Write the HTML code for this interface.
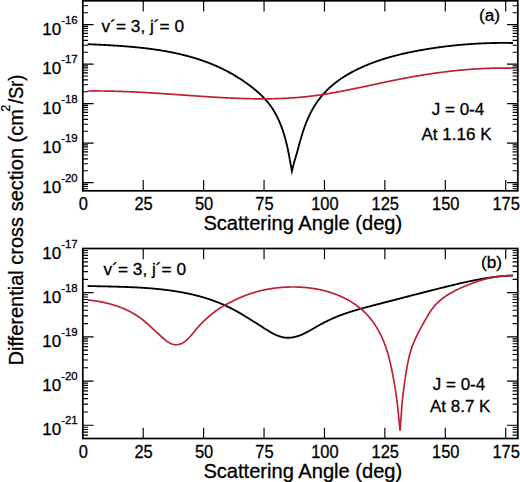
<!DOCTYPE html>
<html><head><meta charset="utf-8"><style>
html,body{margin:0;padding:0;background:#fff;}
body{width:520px;height:482px;position:relative;overflow:hidden;font-family:"Liberation Sans",sans-serif;}
</style></head><body>
<svg width="520" height="482" viewBox="0 0 520 482" style="position:absolute;left:0;top:0">
<g font-family='"Liberation Sans", sans-serif' fill="#000" stroke="#000" stroke-width="0.3">
<path d="M87.62,44.17 L88.12,44.20 L88.62,44.22 L89.12,44.24 L89.62,44.26 L90.12,44.29 L90.62,44.31 L91.12,44.33 L91.62,44.35 L92.12,44.38 L92.62,44.40 L93.12,44.42 L93.62,44.45 L94.12,44.47 L94.62,44.49 L95.12,44.52 L95.62,44.54 L96.12,44.56 L96.62,44.59 L97.12,44.61 L97.62,44.64 L98.12,44.66 L98.62,44.68 L99.12,44.71 L99.62,44.73 L100.12,44.76 L100.62,44.78 L101.12,44.81 L101.62,44.83 L102.13,44.86 L102.63,44.88 L103.13,44.91 L103.63,44.94 L104.13,44.96 L104.63,44.99 L105.13,45.02 L105.63,45.04 L106.13,45.07 L106.63,45.10 L107.13,45.12 L107.63,45.15 L108.13,45.18 L108.63,45.21 L109.13,45.24 L109.63,45.26 L110.13,45.29 L110.63,45.32 L111.13,45.35 L111.63,45.38 L112.13,45.41 L112.63,45.44 L113.13,45.47 L113.63,45.50 L114.13,45.53 L114.63,45.56 L115.13,45.60 L115.63,45.63 L116.12,45.66 L116.62,45.69 L117.12,45.73 L117.62,45.76 L118.12,45.79 L118.62,45.83 L119.12,45.86 L119.62,45.89 L120.12,45.93 L120.62,45.96 L121.12,46.00 L121.62,46.04 L122.12,46.07 L122.62,46.11 L123.12,46.15 L123.62,46.18 L124.12,46.22 L124.62,46.26 L125.12,46.30 L125.62,46.34 L126.12,46.38 L126.61,46.42 L127.11,46.46 L127.61,46.50 L128.11,46.54 L128.61,46.58 L129.11,46.62 L129.61,46.66 L130.11,46.71 L130.61,46.75 L131.11,46.79 L131.61,46.84 L132.10,46.88 L132.60,46.93 L133.10,46.97 L133.60,47.02 L134.10,47.06 L134.60,47.11 L135.10,47.16 L135.59,47.21 L136.09,47.25 L136.59,47.30 L137.09,47.35 L137.59,47.40 L138.09,47.45 L138.58,47.50 L139.08,47.56 L139.58,47.61 L140.08,47.66 L140.58,47.71 L141.07,47.77 L141.57,47.82 L142.07,47.88 L142.57,47.93 L143.07,47.99 L143.56,48.04 L144.06,48.10 L144.56,48.16 L145.06,48.22 L145.55,48.28 L146.05,48.34 L146.55,48.40 L147.05,48.46 L147.54,48.52 L148.04,48.58 L148.54,48.64 L149.03,48.70 L149.53,48.77 L150.03,48.83 L150.52,48.90 L151.02,48.96 L151.52,49.03 L152.01,49.10 L152.51,49.16 L153.00,49.23 L153.50,49.30 L154.00,49.37 L154.49,49.44 L154.99,49.51 L155.48,49.59 L155.98,49.66 L156.47,49.73 L156.97,49.81 L157.46,49.88 L157.96,49.96 L158.46,50.03 L158.95,50.11 L159.44,50.19 L159.94,50.26 L160.43,50.34 L160.93,50.42 L161.42,50.50 L161.92,50.59 L162.41,50.67 L162.90,50.75 L163.40,50.83 L163.89,50.92 L164.39,51.00 L164.88,51.09 L165.37,51.18 L165.87,51.26 L166.36,51.35 L166.85,51.44 L167.34,51.53 L167.84,51.62 L168.33,51.71 L168.82,51.81 L169.31,51.90 L169.80,51.99 L170.30,52.09 L170.79,52.19 L171.28,52.28 L171.77,52.38 L172.26,52.48 L172.75,52.58 L173.24,52.68 L173.73,52.78 L174.22,52.88 L174.71,52.99 L175.20,53.09 L175.69,53.19 L176.18,53.30 L176.67,53.41 L177.16,53.51 L177.65,53.62 L178.14,53.73 L178.63,53.84 L179.12,53.95 L179.60,54.07 L180.09,54.18 L180.58,54.29 L181.07,54.41 L181.55,54.53 L182.04,54.64 L182.53,54.76 L183.01,54.88 L183.50,55.00 L183.99,55.12 L184.47,55.24 L184.96,55.37 L185.44,55.49 L185.93,55.62 L186.41,55.74 L186.90,55.87 L187.38,56.00 L187.86,56.13 L188.35,56.26 L188.83,56.39 L189.31,56.52 L189.80,56.66 L190.28,56.79 L190.76,56.93 L191.24,57.06 L191.72,57.20 L192.21,57.34 L192.69,57.48 L193.17,57.62 L193.65,57.76 L194.13,57.91 L194.61,58.05 L195.09,58.20 L195.56,58.34 L196.04,58.49 L196.52,58.64 L197.00,58.79 L197.48,58.94 L197.95,59.09 L198.43,59.25 L198.91,59.40 L199.38,59.56 L199.86,59.71 L200.33,59.87 L200.81,60.03 L201.28,60.19 L201.76,60.35 L202.23,60.52 L202.70,60.68 L203.18,60.85 L203.65,61.01 L204.12,61.18 L204.59,61.35 L205.06,61.52 L205.53,61.69 L206.00,61.86 L206.47,62.04 L206.94,62.21 L207.41,62.39 L207.88,62.56 L208.35,62.74 L208.81,62.92 L209.28,63.10 L209.75,63.29 L210.21,63.47 L210.68,63.66 L211.14,63.84 L211.61,64.03 L212.07,64.22 L212.54,64.41 L213.00,64.60 L213.46,64.79 L213.92,64.99 L214.38,65.18 L214.85,65.38 L215.31,65.57 L215.76,65.77 L216.22,65.97 L216.68,66.18 L217.14,66.38 L217.60,66.58 L218.05,66.79 L218.51,66.99 L218.97,67.20 L219.42,67.41 L219.88,67.62 L220.33,67.84 L220.78,68.05 L221.23,68.26 L221.69,68.48 L222.14,68.70 L222.59,68.92 L223.04,69.14 L223.49,69.36 L223.94,69.58 L224.38,69.80 L224.83,70.03 L225.28,70.26 L225.72,70.49 L226.17,70.71 L226.61,70.95 L227.06,71.18 L227.50,71.41 L227.94,71.65 L228.38,71.88 L228.82,72.12 L229.26,72.36 L229.70,72.60 L230.14,72.84 L230.58,73.08 L231.02,73.33 L231.45,73.57 L231.89,73.82 L232.32,74.07 L232.76,74.32 L233.19,74.57 L233.62,74.82 L234.06,75.08 L234.49,75.33 L234.92,75.59 L235.35,75.84 L235.78,76.10 L236.20,76.36 L236.63,76.62 L237.06,76.89 L237.48,77.15 L237.91,77.42 L238.33,77.68 L238.76,77.95 L239.18,78.22 L239.60,78.49 L240.02,78.76 L240.44,79.03 L240.86,79.31 L241.28,79.58 L241.70,79.86 L242.11,80.13 L242.53,80.41 L242.94,80.69 L243.36,80.97 L243.77,81.26 L244.19,81.54 L244.60,81.83 L245.01,82.11 L245.42,82.40 L245.83,82.69 L246.24,82.98 L246.64,83.27 L247.05,83.56 L247.46,83.85 L247.86,84.15 L248.27,84.45 L248.67,84.74 L249.07,85.04 L249.47,85.34 L249.87,85.64 L250.27,85.94 L250.67,86.25 L251.07,86.55 L251.47,86.86 L251.86,87.16 L252.26,87.47 L252.65,87.78 L253.04,88.09 L253.43,88.40 L253.82,88.72 L254.21,89.03 L254.60,89.35 L254.99,89.67 L255.37,89.99 L255.76,90.31 L256.14,90.63 L256.52,90.95 L256.90,91.28 L257.28,91.61 L257.66,91.94 L258.04,92.27 L258.41,92.60 L258.79,92.93 L259.16,93.27 L259.53,93.61 L259.89,93.95 L260.26,94.29 L260.63,94.63 L260.99,94.97 L261.35,95.32 L261.71,95.67 L262.07,96.02 L262.42,96.37 L262.78,96.73 L263.13,97.08 L263.48,97.44 L263.83,97.80 L264.17,98.17 L264.52,98.53 L264.86,98.90 L265.20,99.27 L265.53,99.64 L265.87,100.01 L266.20,100.38 L266.53,100.76 L266.85,101.14 L267.18,101.52 L267.50,101.91 L267.82,102.29 L268.13,102.68 L268.45,103.07 L268.76,103.46 L269.07,103.86 L269.37,104.26 L269.67,104.66 L269.97,105.06 L270.27,105.46 L270.56,105.87 L270.86,106.27 L271.14,106.68 L271.43,107.10 L271.71,107.51 L271.99,107.92 L272.27,108.34 L272.54,108.76 L272.81,109.18 L273.08,109.60 L273.35,110.03 L273.61,110.45 L273.87,110.88 L274.13,111.31 L274.39,111.74 L274.64,112.17 L274.89,112.61 L275.14,113.04 L275.38,113.48 L275.62,113.92 L275.86,114.36 L276.10,114.80 L276.33,115.24 L276.57,115.69 L276.79,116.13 L277.02,116.58 L277.25,117.03 L277.47,117.48 L277.69,117.93 L277.91,118.38 L278.12,118.83 L278.33,119.28 L278.54,119.74 L278.75,120.19 L278.96,120.65 L279.16,121.11 L279.36,121.57 L279.56,122.03 L279.75,122.49 L279.95,122.95 L280.14,123.41 L280.33,123.87 L280.52,124.34 L280.70,124.80 L280.89,125.27 L281.07,125.74 L281.25,126.20 L281.42,126.67 L281.60,127.14 L281.77,127.61 L281.94,128.08 L282.11,128.55 L282.28,129.03 L282.45,129.50 L282.61,129.97 L282.77,130.45 L282.93,130.92 L283.09,131.40 L283.25,131.87 L283.40,132.35 L283.55,132.83 L283.70,133.30 L283.85,133.78 L284.00,134.26 L284.15,134.74 L284.29,135.22 L284.43,135.70 L284.57,136.18 L284.71,136.66 L284.85,137.14 L284.99,137.62 L285.12,138.11 L285.26,138.59 L285.39,139.07 L285.52,139.56 L285.65,140.04 L285.77,140.52 L285.90,141.01 L286.02,141.49 L286.15,141.98 L286.27,142.46 L286.39,142.95 L286.51,143.44 L286.63,143.92 L286.74,144.41 L286.86,144.90 L286.97,145.39 L287.08,145.87 L287.20,146.36 L287.31,146.85 L287.41,147.34 L287.52,147.83 L287.63,148.32 L287.74,148.81 L287.84,149.30 L287.94,149.79 L288.05,150.28 L288.15,150.77 L288.25,151.26 L288.35,151.75 L288.45,152.24 L288.54,152.73 L288.64,153.22 L288.74,153.71 L288.83,154.21 L288.93,154.70 L289.02,155.19 L289.11,155.68 L289.20,156.17 L289.29,156.67 L289.38,157.16 L289.47,157.65 L289.56,158.15 L289.65,158.64 L289.74,159.13 L289.82,159.63 L289.91,160.12 L289.99,160.61 L290.08,161.11 L291.90,171.20 L294.23,161.80 L294.38,161.32 L294.54,160.85 L294.69,160.37 L294.84,159.89 L294.99,159.41 L295.14,158.94 L295.28,158.46 L295.43,157.98 L295.57,157.50 L295.72,157.02 L295.86,156.54 L296.00,156.06 L296.14,155.58 L296.28,155.10 L296.42,154.62 L296.56,154.13 L296.69,153.65 L296.83,153.17 L296.97,152.69 L297.10,152.21 L297.24,151.72 L297.37,151.24 L297.50,150.76 L297.64,150.28 L297.77,149.79 L297.90,149.31 L298.04,148.83 L298.17,148.35 L298.30,147.86 L298.43,147.38 L298.56,146.90 L298.70,146.41 L298.83,145.93 L298.96,145.45 L299.09,144.96 L299.22,144.48 L299.36,144.00 L299.49,143.52 L299.62,143.03 L299.75,142.55 L299.89,142.07 L300.02,141.58 L300.16,141.10 L300.29,140.62 L300.43,140.14 L300.56,139.66 L300.70,139.17 L300.84,138.69 L300.98,138.21 L301.12,137.73 L301.26,137.25 L301.40,136.77 L301.54,136.29 L301.68,135.81 L301.82,135.33 L301.97,134.85 L302.12,134.37 L302.26,133.89 L302.41,133.41 L302.56,132.94 L302.71,132.46 L302.86,131.98 L303.02,131.51 L303.17,131.03 L303.33,130.55 L303.49,130.08 L303.65,129.60 L303.81,129.13 L303.97,128.66 L304.13,128.18 L304.30,127.71 L304.47,127.24 L304.64,126.77 L304.81,126.30 L304.98,125.83 L305.15,125.36 L305.33,124.89 L305.51,124.42 L305.69,123.95 L305.87,123.49 L306.05,123.02 L306.23,122.55 L306.42,122.09 L306.61,121.62 L306.80,121.16 L306.99,120.70 L307.18,120.24 L307.38,119.78 L307.58,119.32 L307.78,118.86 L307.98,118.40 L308.18,117.94 L308.39,117.48 L308.59,117.03 L308.80,116.57 L309.02,116.12 L309.23,115.67 L309.44,115.21 L309.66,114.76 L309.88,114.31 L310.10,113.86 L310.33,113.42 L310.55,112.97 L310.78,112.52 L311.01,112.08 L311.25,111.64 L311.48,111.19 L311.72,110.75 L311.96,110.31 L312.20,109.87 L312.44,109.44 L312.69,109.00 L312.94,108.57 L313.19,108.13 L313.44,107.70 L313.70,107.27 L313.95,106.84 L314.21,106.41 L314.48,105.99 L314.74,105.56 L315.01,105.14 L315.28,104.72 L315.55,104.30 L315.82,103.88 L316.10,103.46 L316.38,103.04 L316.66,102.63 L316.95,102.22 L317.23,101.81 L317.52,101.40 L317.81,100.99 L318.11,100.59 L318.40,100.18 L318.70,99.78 L319.00,99.38 L319.31,98.98 L319.61,98.58 L319.92,98.19 L320.23,97.80 L320.54,97.40 L320.86,97.02 L321.17,96.63 L321.49,96.24 L321.81,95.86 L322.14,95.47 L322.46,95.09 L322.79,94.72 L323.12,94.34 L323.45,93.96 L323.79,93.59 L324.12,93.22 L324.46,92.85 L324.80,92.48 L325.14,92.12 L325.49,91.75 L325.84,91.39 L326.18,91.03 L326.53,90.68 L326.89,90.32 L327.24,89.97 L327.60,89.61 L327.96,89.26 L328.32,88.92 L328.68,88.57 L329.04,88.23 L329.41,87.88 L329.77,87.54 L330.14,87.21 L330.52,86.87 L330.89,86.54 L331.26,86.20 L331.64,85.87 L332.02,85.55 L332.40,85.22 L332.78,84.90 L333.16,84.57 L333.55,84.26 L333.94,83.94 L334.33,83.62 L334.72,83.31 L335.11,83.00 L335.50,82.69 L335.90,82.38 L336.30,82.08 L336.69,81.77 L337.10,81.47 L337.50,81.17 L337.90,80.88 L338.31,80.58 L338.71,80.29 L339.12,80.00 L339.53,79.71 L339.94,79.42 L340.35,79.14 L340.76,78.86 L341.18,78.58 L341.59,78.30 L342.01,78.02 L342.43,77.74 L342.85,77.47 L343.27,77.20 L343.69,76.93 L344.11,76.66 L344.54,76.40 L344.96,76.13 L345.39,75.87 L345.82,75.61 L346.25,75.35 L346.68,75.09 L347.11,74.84 L347.54,74.58 L347.97,74.33 L348.40,74.08 L348.84,73.83 L349.27,73.58 L349.71,73.34 L350.15,73.09 L350.59,72.85 L351.03,72.61 L351.47,72.37 L351.91,72.13 L352.35,71.90 L352.79,71.66 L353.23,71.43 L353.68,71.20 L354.12,70.97 L354.57,70.74 L355.01,70.51 L355.46,70.28 L355.91,70.06 L356.36,69.84 L356.80,69.61 L357.25,69.39 L357.70,69.17 L358.15,68.96 L358.61,68.74 L359.06,68.52 L359.51,68.31 L359.96,68.10 L360.42,67.89 L360.87,67.68 L361.33,67.47 L361.78,67.26 L362.24,67.06 L362.70,66.85 L363.16,66.65 L363.61,66.45 L364.07,66.25 L364.53,66.05 L364.99,65.85 L365.45,65.65 L365.92,65.46 L366.38,65.26 L366.84,65.07 L367.30,64.88 L367.77,64.69 L368.23,64.50 L368.69,64.32 L369.16,64.13 L369.62,63.94 L370.09,63.76 L370.56,63.58 L371.02,63.40 L371.49,63.22 L371.96,63.04 L372.43,62.86 L372.89,62.68 L373.36,62.51 L373.83,62.34 L374.30,62.16 L374.77,61.99 L375.24,61.82 L375.72,61.65 L376.19,61.48 L376.66,61.32 L377.13,61.15 L377.61,60.99 L378.08,60.82 L378.55,60.66 L379.03,60.50 L379.50,60.34 L379.98,60.18 L380.45,60.02 L380.93,59.87 L381.40,59.71 L381.88,59.56 L382.36,59.40 L382.83,59.25 L383.31,59.10 L383.79,58.95 L384.27,58.80 L384.74,58.65 L385.22,58.51 L385.70,58.36 L386.18,58.22 L386.66,58.07 L387.14,57.93 L387.62,57.79 L388.10,57.65 L388.58,57.51 L389.06,57.37 L389.55,57.23 L390.03,57.09 L390.51,56.96 L390.99,56.82 L391.47,56.69 L391.96,56.56 L392.44,56.42 L392.92,56.29 L393.41,56.16 L393.89,56.03 L394.37,55.90 L394.86,55.78 L395.34,55.65 L395.83,55.53 L396.31,55.40 L396.80,55.28 L397.28,55.15 L397.77,55.03 L398.26,54.91 L398.74,54.79 L399.23,54.67 L399.71,54.55 L400.20,54.44 L400.69,54.32 L401.18,54.20 L401.66,54.09 L402.15,53.97 L402.64,53.86 L403.13,53.75 L403.61,53.64 L404.10,53.52 L404.59,53.41 L405.08,53.30 L405.57,53.20 L406.06,53.09 L406.55,52.98 L407.04,52.87 L407.52,52.77 L408.01,52.66 L408.50,52.56 L408.99,52.45 L409.48,52.35 L409.97,52.25 L410.46,52.15 L410.96,52.05 L411.45,51.95 L411.94,51.85 L412.43,51.75 L412.92,51.65 L413.41,51.55 L413.90,51.46 L414.39,51.36 L414.88,51.27 L415.38,51.17 L415.87,51.08 L416.36,50.98 L416.85,50.89 L417.34,50.80 L417.84,50.71 L418.33,50.62 L418.82,50.53 L419.31,50.44 L419.81,50.35 L420.30,50.26 L420.79,50.17 L421.29,50.08 L421.78,50.00 L422.27,49.91 L422.77,49.82 L423.26,49.74 L423.75,49.65 L424.25,49.57 L424.74,49.49 L425.23,49.40 L425.73,49.32 L426.22,49.24 L426.72,49.16 L427.21,49.08 L427.70,48.99 L428.20,48.91 L428.69,48.84 L429.19,48.76 L429.68,48.68 L430.18,48.60 L430.67,48.52 L431.17,48.45 L431.66,48.37 L432.16,48.29 L432.65,48.22 L433.15,48.14 L433.64,48.07 L434.14,47.99 L434.63,47.92 L435.13,47.85 L435.62,47.78 L436.12,47.71 L436.61,47.63 L437.11,47.56 L437.61,47.49 L438.10,47.42 L438.60,47.36 L439.09,47.29 L439.59,47.22 L440.09,47.15 L440.58,47.08 L441.08,47.02 L441.57,46.95 L442.07,46.89 L442.57,46.82 L443.06,46.76 L443.56,46.69 L444.06,46.63 L444.55,46.57 L445.05,46.51 L445.55,46.44 L446.05,46.38 L446.54,46.32 L447.04,46.26 L447.54,46.20 L448.03,46.14 L448.53,46.09 L449.03,46.03 L449.53,45.97 L450.02,45.91 L450.52,45.86 L451.02,45.80 L451.52,45.75 L452.01,45.69 L452.51,45.64 L453.01,45.59 L453.51,45.53 L454.01,45.48 L454.50,45.43 L455.00,45.38 L455.50,45.33 L456.00,45.27 L456.50,45.22 L457.00,45.18 L457.49,45.13 L457.99,45.08 L458.49,45.03 L458.99,44.98 L459.49,44.94 L459.99,44.89 L460.49,44.85 L460.98,44.80 L461.48,44.76 L461.98,44.71 L462.48,44.67 L462.98,44.63 L463.48,44.58 L463.98,44.54 L464.48,44.50 L464.98,44.46 L465.47,44.42 L465.97,44.38 L466.47,44.34 L466.97,44.30 L467.47,44.26 L467.97,44.23 L468.47,44.19 L468.97,44.15 L469.47,44.12 L469.97,44.08 L470.47,44.05 L470.97,44.01 L471.47,43.98 L471.97,43.94 L472.47,43.91 L472.97,43.88 L473.47,43.85 L473.97,43.82 L474.47,43.79 L474.97,43.76 L475.47,43.73 L475.97,43.70 L476.47,43.67 L476.97,43.64 L477.47,43.61 L477.97,43.59 L478.47,43.56 L478.97,43.53 L479.47,43.51 L479.97,43.48 L480.47,43.46 L480.97,43.44 L481.47,43.41 L481.97,43.39 L482.47,43.37 L482.97,43.35 L483.47,43.33 L483.97,43.30 L484.47,43.28 L484.97,43.27 L485.47,43.25 L485.97,43.23 L486.47,43.21 L486.97,43.19 L487.47,43.18 L487.97,43.16 L488.47,43.14 L488.97,43.13 L489.47,43.11 L489.97,43.10 L490.47,43.09 L490.97,43.07 L491.47,43.06 L491.98,43.05 L492.48,43.04 L492.98,43.03 L493.48,43.01 L493.98,43.00 L494.48,43.00 L494.98,42.99 L495.48,42.98 L495.98,42.97 L496.48,42.96 L496.98,42.96 L497.48,42.95 L497.98,42.94 L498.48,42.94 L498.98,42.93 L499.49,42.93 L499.99,42.93 L500.49,42.92 L500.99,42.92 L501.49,42.92 L501.99,42.92 L502.49,42.92 L502.99,42.92 L503.49,42.92 L503.99,42.92 L504.49,42.92 L504.99,42.92 L505.49,42.92 L506.00,42.92 L506.50,42.93 L507.00,42.93 L507.50,42.93 L508.00,42.94 L508.50,42.94 L509.00,42.95 L509.50,42.96 L510.00,42.96 L510.50,42.97 L511.00,42.98 L511.50,42.99 L512.00,42.99 L512.50,43.00 L513.01,43.01" fill="none" stroke="#000" stroke-width="1.85" stroke-linejoin="miter" stroke-miterlimit="6"/>
<path d="M87.60,91.01 L88.10,91.00 L88.60,90.99 L89.10,90.99 L89.60,90.98 L90.10,90.98 L90.60,90.98 L91.10,90.97 L91.60,90.97 L92.10,90.97 L92.60,90.97 L93.10,90.96 L93.60,90.96 L94.10,90.96 L94.60,90.96 L95.10,90.96 L95.60,90.96 L96.10,90.96 L96.60,90.96 L97.10,90.96 L97.60,90.97 L98.10,90.97 L98.60,90.97 L99.10,90.97 L99.60,90.98 L100.10,90.98 L100.60,90.98 L101.10,90.99 L101.60,90.99 L102.10,91.00 L102.61,91.00 L103.11,91.01 L103.61,91.02 L104.11,91.02 L104.61,91.03 L105.11,91.04 L105.61,91.04 L106.11,91.05 L106.61,91.06 L107.11,91.07 L107.61,91.08 L108.11,91.09 L108.61,91.10 L109.11,91.11 L109.61,91.12 L110.11,91.13 L110.61,91.14 L111.11,91.15 L111.61,91.16 L112.11,91.17 L112.61,91.18 L113.11,91.20 L113.61,91.21 L114.11,91.22 L114.61,91.24 L115.11,91.25 L115.61,91.26 L116.11,91.28 L116.61,91.29 L117.11,91.31 L117.61,91.32 L118.11,91.34 L118.61,91.35 L119.11,91.37 L119.61,91.39 L120.11,91.40 L120.61,91.42 L121.11,91.44 L121.60,91.46 L122.10,91.47 L122.60,91.49 L123.10,91.51 L123.60,91.53 L124.10,91.55 L124.60,91.57 L125.10,91.59 L125.60,91.60 L126.10,91.62 L126.60,91.65 L127.10,91.67 L127.60,91.69 L128.10,91.71 L128.60,91.73 L129.10,91.75 L129.60,91.77 L130.10,91.79 L130.60,91.82 L131.10,91.84 L131.60,91.86 L132.10,91.88 L132.60,91.91 L133.10,91.93 L133.60,91.95 L134.10,91.98 L134.60,92.00 L135.10,92.03 L135.60,92.05 L136.10,92.07 L136.60,92.10 L137.09,92.12 L137.59,92.15 L138.09,92.18 L138.59,92.20 L139.09,92.23 L139.59,92.25 L140.09,92.28 L140.59,92.31 L141.09,92.33 L141.59,92.36 L142.09,92.39 L142.59,92.41 L143.09,92.44 L143.59,92.47 L144.09,92.50 L144.59,92.52 L145.09,92.55 L145.59,92.58 L146.08,92.61 L146.58,92.64 L147.08,92.67 L147.58,92.70 L148.08,92.73 L148.58,92.75 L149.08,92.78 L149.58,92.81 L150.08,92.84 L150.58,92.87 L151.08,92.90 L151.58,92.93 L152.08,92.96 L152.58,92.99 L153.07,93.03 L153.57,93.06 L154.07,93.09 L154.57,93.12 L155.07,93.15 L155.57,93.18 L156.07,93.21 L156.57,93.24 L157.07,93.28 L157.57,93.31 L158.07,93.34 L158.57,93.37 L159.06,93.40 L159.56,93.44 L160.06,93.47 L160.56,93.50 L161.06,93.53 L161.56,93.57 L162.06,93.60 L162.56,93.63 L163.06,93.67 L163.56,93.70 L164.05,93.73 L164.55,93.77 L165.05,93.80 L165.55,93.83 L166.05,93.87 L166.55,93.90 L167.05,93.93 L167.55,93.97 L168.05,94.00 L168.55,94.03 L169.04,94.07 L169.54,94.10 L170.04,94.14 L170.54,94.17 L171.04,94.21 L171.54,94.24 L172.04,94.27 L172.54,94.31 L173.04,94.34 L173.54,94.38 L174.03,94.41 L174.53,94.45 L175.03,94.48 L175.53,94.52 L176.03,94.55 L176.53,94.59 L177.03,94.62 L177.53,94.66 L178.03,94.69 L178.53,94.73 L179.02,94.76 L179.52,94.80 L180.02,94.83 L180.52,94.87 L181.02,94.90 L181.52,94.94 L182.02,94.97 L182.52,95.01 L183.02,95.04 L183.51,95.08 L184.01,95.11 L184.51,95.15 L185.01,95.18 L185.51,95.22 L186.01,95.25 L186.51,95.29 L187.01,95.32 L187.51,95.36 L188.00,95.40 L188.50,95.43 L189.00,95.47 L189.50,95.50 L190.00,95.54 L190.50,95.57 L191.00,95.61 L191.50,95.64 L192.00,95.68 L192.49,95.71 L192.99,95.75 L193.49,95.78 L193.99,95.82 L194.49,95.85 L194.99,95.89 L195.49,95.92 L195.99,95.96 L196.49,95.99 L196.99,96.02 L197.48,96.06 L197.98,96.09 L198.48,96.13 L198.98,96.16 L199.48,96.20 L199.98,96.23 L200.48,96.26 L200.98,96.30 L201.48,96.33 L201.97,96.37 L202.47,96.40 L202.97,96.43 L203.47,96.47 L203.97,96.50 L204.47,96.53 L204.97,96.57 L205.47,96.60 L205.97,96.63 L206.47,96.67 L206.97,96.70 L207.46,96.73 L207.96,96.76 L208.46,96.80 L208.96,96.83 L209.46,96.86 L209.96,96.89 L210.46,96.92 L210.96,96.96 L211.46,96.99 L211.96,97.02 L212.46,97.05 L212.95,97.08 L213.45,97.11 L213.95,97.14 L214.45,97.17 L214.95,97.20 L215.45,97.23 L215.95,97.26 L216.45,97.29 L216.95,97.32 L217.45,97.35 L217.95,97.38 L218.45,97.41 L218.95,97.44 L219.45,97.47 L219.94,97.50 L220.44,97.52 L220.94,97.55 L221.44,97.58 L221.94,97.61 L222.44,97.64 L222.94,97.66 L223.44,97.69 L223.94,97.72 L224.44,97.74 L224.94,97.77 L225.44,97.80 L225.94,97.82 L226.44,97.85 L226.94,97.87 L227.44,97.90 L227.94,97.92 L228.44,97.95 L228.93,97.97 L229.43,98.00 L229.93,98.02 L230.43,98.04 L230.93,98.07 L231.43,98.09 L231.93,98.11 L232.43,98.14 L232.93,98.16 L233.43,98.18 L233.93,98.20 L234.43,98.22 L234.93,98.24 L235.43,98.26 L235.93,98.28 L236.43,98.30 L236.93,98.32 L237.43,98.34 L237.93,98.36 L238.43,98.38 L238.93,98.40 L239.43,98.42 L239.93,98.44 L240.43,98.46 L240.93,98.47 L241.43,98.49 L241.93,98.51 L242.43,98.52 L242.93,98.54 L243.43,98.55 L243.93,98.57 L244.43,98.58 L244.93,98.60 L245.43,98.61 L245.93,98.63 L246.43,98.64 L246.93,98.65 L247.43,98.67 L247.93,98.68 L248.43,98.69 L248.93,98.70 L249.43,98.71 L249.93,98.72 L250.43,98.73 L250.93,98.74 L251.43,98.75 L251.93,98.76 L252.43,98.77 L252.93,98.78 L253.43,98.79 L253.93,98.80 L254.43,98.80 L254.93,98.81 L255.43,98.82 L255.93,98.82 L256.43,98.83 L256.93,98.83 L257.43,98.84 L257.93,98.84 L258.43,98.85 L258.93,98.85 L259.43,98.85 L259.93,98.85 L260.43,98.86 L260.93,98.86 L261.43,98.86 L261.93,98.86 L262.43,98.86 L262.93,98.86 L263.43,98.86 L263.93,98.86 L264.43,98.86 L264.93,98.85 L265.43,98.85 L265.93,98.85 L266.43,98.84 L266.93,98.84 L267.43,98.84 L267.93,98.83 L268.43,98.82 L268.93,98.82 L269.43,98.81 L269.93,98.80 L270.43,98.80 L270.93,98.79 L271.43,98.78 L271.93,98.77 L272.43,98.76 L272.93,98.75 L273.43,98.74 L273.93,98.73 L274.43,98.72 L274.93,98.70 L275.43,98.69 L275.93,98.68 L276.43,98.66 L276.93,98.65 L277.43,98.63 L277.93,98.62 L278.43,98.60 L278.93,98.58 L279.43,98.56 L279.93,98.55 L280.43,98.53 L280.93,98.51 L281.43,98.49 L281.93,98.47 L282.43,98.45 L282.93,98.42 L283.43,98.40 L283.93,98.38 L284.43,98.36 L284.93,98.33 L285.43,98.31 L285.93,98.28 L286.43,98.25 L286.93,98.23 L287.43,98.20 L287.92,98.17 L288.42,98.14 L288.92,98.12 L289.42,98.09 L289.92,98.05 L290.42,98.02 L290.92,97.99 L291.42,97.96 L291.92,97.93 L292.42,97.89 L292.92,97.86 L293.42,97.82 L293.91,97.79 L294.41,97.75 L294.91,97.71 L295.41,97.68 L295.91,97.64 L296.41,97.60 L296.91,97.56 L297.40,97.52 L297.90,97.48 L298.40,97.43 L298.90,97.39 L299.40,97.35 L299.90,97.30 L300.39,97.26 L300.89,97.21 L301.39,97.17 L301.89,97.12 L302.39,97.07 L302.88,97.03 L303.38,96.98 L303.88,96.93 L304.38,96.88 L304.87,96.83 L305.37,96.77 L305.87,96.72 L306.37,96.67 L306.86,96.61 L307.36,96.56 L307.86,96.50 L308.36,96.45 L308.85,96.39 L309.35,96.33 L309.85,96.27 L310.34,96.21 L310.84,96.15 L311.33,96.09 L311.83,96.03 L312.33,95.97 L312.82,95.90 L313.32,95.84 L313.82,95.78 L314.31,95.71 L314.81,95.64 L315.30,95.58 L315.80,95.51 L316.29,95.44 L316.79,95.37 L317.29,95.31 L317.78,95.24 L318.28,95.17 L318.77,95.09 L319.27,95.02 L319.76,94.95 L320.26,94.88 L320.75,94.80 L321.24,94.73 L321.74,94.66 L322.23,94.58 L322.73,94.50 L323.22,94.43 L323.72,94.35 L324.21,94.27 L324.70,94.19 L325.20,94.12 L325.69,94.04 L326.19,93.96 L326.68,93.88 L327.17,93.80 L327.67,93.71 L328.16,93.63 L328.65,93.55 L329.15,93.47 L329.64,93.38 L330.13,93.30 L330.63,93.21 L331.12,93.13 L331.61,93.04 L332.10,92.96 L332.60,92.87 L333.09,92.79 L333.58,92.70 L334.07,92.61 L334.57,92.52 L335.06,92.43 L335.55,92.35 L336.04,92.26 L336.54,92.17 L337.03,92.08 L337.52,91.98 L338.01,91.89 L338.50,91.80 L338.99,91.71 L339.49,91.62 L339.98,91.53 L340.47,91.43 L340.96,91.34 L341.45,91.25 L341.94,91.15 L342.43,91.06 L342.92,90.96 L343.42,90.87 L343.91,90.77 L344.40,90.68 L344.89,90.58 L345.38,90.48 L345.87,90.39 L346.36,90.29 L346.85,90.19 L347.34,90.10 L347.83,90.00 L348.32,89.90 L348.81,89.80 L349.30,89.70 L349.79,89.60 L350.28,89.50 L350.77,89.40 L351.26,89.30 L351.75,89.20 L352.24,89.10 L352.73,89.00 L353.22,88.90 L353.71,88.80 L354.20,88.70 L354.69,88.60 L355.18,88.50 L355.67,88.40 L356.16,88.30 L356.65,88.19 L357.14,88.09 L357.63,87.99 L358.12,87.89 L358.61,87.78 L359.10,87.68 L359.59,87.58 L360.08,87.47 L360.57,87.37 L361.06,87.27 L361.55,87.16 L362.04,87.06 L362.53,86.96 L363.01,86.85 L363.50,86.75 L363.99,86.64 L364.48,86.54 L364.97,86.44 L365.46,86.33 L365.95,86.23 L366.44,86.12 L366.93,86.02 L367.42,85.91 L367.91,85.81 L368.40,85.70 L368.88,85.60 L369.37,85.49 L369.86,85.39 L370.35,85.29 L370.84,85.18 L371.33,85.08 L371.82,84.97 L372.31,84.87 L372.80,84.76 L373.29,84.66 L373.77,84.55 L374.26,84.45 L374.75,84.34 L375.24,84.24 L375.73,84.13 L376.22,84.03 L376.71,83.92 L377.20,83.82 L377.69,83.71 L378.18,83.61 L378.67,83.50 L379.15,83.40 L379.64,83.30 L380.13,83.19 L380.62,83.09 L381.11,82.98 L381.60,82.88 L382.09,82.77 L382.58,82.67 L383.07,82.57 L383.56,82.46 L384.05,82.36 L384.54,82.26 L385.03,82.15 L385.51,82.05 L386.00,81.95 L386.49,81.85 L386.98,81.74 L387.47,81.64 L387.96,81.54 L388.45,81.44 L388.94,81.34 L389.43,81.23 L389.92,81.13 L390.41,81.03 L390.90,80.93 L391.39,80.83 L391.88,80.73 L392.37,80.63 L392.86,80.53 L393.35,80.43 L393.84,80.33 L394.33,80.23 L394.82,80.13 L395.31,80.03 L395.80,79.93 L396.29,79.84 L396.78,79.74 L397.27,79.64 L397.76,79.54 L398.25,79.45 L398.75,79.35 L399.24,79.25 L399.73,79.16 L400.22,79.06 L400.71,78.97 L401.20,78.87 L401.69,78.77 L402.18,78.68 L402.67,78.59 L403.16,78.49 L403.66,78.40 L404.15,78.31 L404.64,78.21 L405.13,78.12 L405.62,78.03 L406.11,77.94 L406.61,77.84 L407.10,77.75 L407.59,77.66 L408.08,77.57 L408.57,77.48 L409.06,77.39 L409.56,77.30 L410.05,77.21 L410.54,77.12 L411.03,77.03 L411.53,76.95 L412.02,76.86 L412.51,76.77 L413.00,76.68 L413.50,76.60 L413.99,76.51 L414.48,76.43 L414.97,76.34 L415.47,76.25 L415.96,76.17 L416.45,76.08 L416.95,76.00 L417.44,75.92 L417.93,75.83 L418.42,75.75 L418.92,75.67 L419.41,75.58 L419.90,75.50 L420.40,75.42 L420.89,75.34 L421.38,75.26 L421.88,75.18 L422.37,75.10 L422.87,75.02 L423.36,74.94 L423.85,74.86 L424.35,74.78 L424.84,74.70 L425.34,74.63 L425.83,74.55 L426.32,74.47 L426.82,74.39 L427.31,74.32 L427.81,74.24 L428.30,74.17 L428.80,74.09 L429.29,74.02 L429.78,73.94 L430.28,73.87 L430.77,73.80 L431.27,73.72 L431.76,73.65 L432.26,73.58 L432.75,73.51 L433.25,73.43 L433.74,73.36 L434.24,73.29 L434.73,73.22 L435.23,73.15 L435.72,73.08 L436.22,73.01 L436.72,72.94 L437.21,72.88 L437.71,72.81 L438.20,72.74 L438.70,72.67 L439.19,72.61 L439.69,72.54 L440.19,72.48 L440.68,72.41 L441.18,72.35 L441.67,72.28 L442.17,72.22 L442.67,72.15 L443.16,72.09 L443.66,72.03 L444.15,71.97 L444.65,71.91 L445.15,71.84 L445.64,71.78 L446.14,71.72 L446.64,71.66 L447.13,71.60 L447.63,71.54 L448.13,71.49 L448.62,71.43 L449.12,71.37 L449.62,71.31 L450.11,71.26 L450.61,71.20 L451.11,71.14 L451.60,71.09 L452.10,71.03 L452.60,70.98 L453.10,70.92 L453.59,70.87 L454.09,70.82 L454.59,70.76 L455.09,70.71 L455.58,70.66 L456.08,70.61 L456.58,70.56 L457.08,70.51 L457.57,70.46 L458.07,70.41 L458.57,70.36 L459.07,70.31 L459.56,70.26 L460.06,70.22 L460.56,70.17 L461.06,70.12 L461.56,70.08 L462.05,70.03 L462.55,69.99 L463.05,69.94 L463.55,69.90 L464.05,69.85 L464.54,69.81 L465.04,69.77 L465.54,69.72 L466.04,69.68 L466.54,69.64 L467.04,69.60 L467.54,69.56 L468.03,69.52 L468.53,69.48 L469.03,69.44 L469.53,69.40 L470.03,69.37 L470.53,69.33 L471.03,69.29 L471.53,69.26 L472.02,69.22 L472.52,69.19 L473.02,69.15 L473.52,69.12 L474.02,69.08 L474.52,69.05 L475.02,69.02 L475.52,68.99 L476.02,68.95 L476.52,68.92 L477.01,68.89 L477.51,68.86 L478.01,68.83 L478.51,68.80 L479.01,68.78 L479.51,68.75 L480.01,68.72 L480.51,68.69 L481.01,68.67 L481.51,68.64 L482.01,68.62 L482.51,68.59 L483.01,68.57 L483.51,68.54 L484.01,68.52 L484.51,68.50 L485.01,68.47 L485.51,68.45 L486.01,68.43 L486.51,68.41 L487.00,68.39 L487.50,68.37 L488.00,68.35 L488.50,68.34 L489.00,68.32 L489.50,68.30 L490.00,68.28 L490.50,68.27 L491.00,68.25 L491.50,68.24 L492.00,68.22 L492.50,68.21 L493.00,68.20 L493.50,68.18 L494.00,68.17 L494.50,68.16 L495.00,68.15 L495.50,68.14 L496.00,68.13 L496.50,68.12 L497.00,68.11 L497.50,68.10 L498.00,68.09 L498.50,68.09 L499.00,68.08 L499.50,68.07 L500.00,68.07 L500.50,68.06 L501.00,68.06 L501.50,68.06 L502.00,68.05 L502.50,68.05 L503.01,68.05 L503.51,68.05 L504.01,68.05 L504.51,68.05 L505.01,68.05 L505.51,68.05 L506.01,68.05 L506.51,68.05 L507.01,68.05 L507.51,68.06 L508.01,68.06 L508.51,68.06 L509.01,68.07 L509.51,68.07 L510.01,68.08 L510.51,68.09 L511.01,68.10 L511.51,68.10 L512.01,68.11 L512.51,68.12 L513.01,68.13" fill="none" stroke="#bc2236" stroke-width="1.7" stroke-linejoin="round"/>
<path d="M87.63,285.98 L88.13,286.00 L88.63,286.01 L89.13,286.02 L89.63,286.04 L90.13,286.05 L90.63,286.06 L91.13,286.08 L91.63,286.09 L92.13,286.10 L92.63,286.11 L93.13,286.12 L93.63,286.14 L94.13,286.15 L94.63,286.16 L95.13,286.17 L95.63,286.18 L96.13,286.20 L96.63,286.21 L97.13,286.22 L97.63,286.23 L98.13,286.24 L98.63,286.25 L99.13,286.26 L99.63,286.27 L100.13,286.29 L100.63,286.30 L101.13,286.31 L101.63,286.32 L102.13,286.33 L102.63,286.34 L103.13,286.35 L103.63,286.36 L104.13,286.38 L104.63,286.39 L105.13,286.40 L105.63,286.41 L106.13,286.42 L106.63,286.43 L107.13,286.44 L107.63,286.45 L108.13,286.47 L108.63,286.48 L109.13,286.49 L109.63,286.50 L110.13,286.51 L110.63,286.53 L111.13,286.54 L111.63,286.55 L112.13,286.56 L112.63,286.58 L113.13,286.59 L113.63,286.60 L114.13,286.61 L114.63,286.63 L115.13,286.64 L115.63,286.65 L116.13,286.67 L116.63,286.68 L117.13,286.70 L117.63,286.71 L118.13,286.72 L118.63,286.74 L119.13,286.75 L119.63,286.77 L120.13,286.78 L120.63,286.80 L121.13,286.81 L121.63,286.83 L122.13,286.85 L122.63,286.86 L123.13,286.88 L123.63,286.90 L124.13,286.91 L124.63,286.93 L125.13,286.95 L125.63,286.97 L126.13,286.99 L126.63,287.00 L127.13,287.02 L127.63,287.04 L128.13,287.06 L128.63,287.08 L129.13,287.10 L129.62,287.12 L130.12,287.14 L130.62,287.16 L131.12,287.19 L131.62,287.21 L132.12,287.23 L132.62,287.25 L133.12,287.28 L133.62,287.30 L134.12,287.32 L134.62,287.35 L135.12,287.37 L135.62,287.40 L136.12,287.42 L136.62,287.45 L137.12,287.47 L137.62,287.50 L138.12,287.53 L138.62,287.56 L139.12,287.58 L139.62,287.61 L140.11,287.64 L140.61,287.67 L141.11,287.70 L141.61,287.73 L142.11,287.76 L142.61,287.79 L143.11,287.82 L143.61,287.86 L144.11,287.89 L144.61,287.92 L145.11,287.96 L145.61,287.99 L146.10,288.03 L146.60,288.06 L147.10,288.10 L147.60,288.13 L148.10,288.17 L148.60,288.21 L149.10,288.25 L149.60,288.28 L150.09,288.32 L150.59,288.36 L151.09,288.40 L151.59,288.45 L152.09,288.49 L152.59,288.53 L153.08,288.57 L153.58,288.62 L154.08,288.66 L154.58,288.70 L155.08,288.75 L155.58,288.80 L156.07,288.84 L156.57,288.89 L157.07,288.94 L157.57,288.99 L158.06,289.04 L158.56,289.09 L159.06,289.14 L159.56,289.19 L160.05,289.24 L160.55,289.29 L161.05,289.35 L161.55,289.40 L162.04,289.46 L162.54,289.51 L163.04,289.57 L163.53,289.63 L164.03,289.68 L164.53,289.74 L165.02,289.80 L165.52,289.86 L166.02,289.92 L166.51,289.99 L167.01,290.05 L167.51,290.11 L168.00,290.18 L168.50,290.24 L168.99,290.31 L169.49,290.37 L169.98,290.44 L170.48,290.51 L170.98,290.58 L171.47,290.65 L171.97,290.72 L172.46,290.79 L172.96,290.87 L173.45,290.94 L173.94,291.01 L174.44,291.09 L174.93,291.17 L175.43,291.24 L175.92,291.32 L176.42,291.40 L176.91,291.48 L177.40,291.56 L177.90,291.64 L178.39,291.73 L178.88,291.81 L179.38,291.89 L179.87,291.98 L180.36,292.07 L180.85,292.15 L181.34,292.24 L181.84,292.33 L182.33,292.42 L182.82,292.52 L183.31,292.61 L183.80,292.70 L184.29,292.80 L184.79,292.89 L185.28,292.99 L185.77,293.09 L186.26,293.19 L186.75,293.29 L187.24,293.39 L187.73,293.49 L188.22,293.59 L188.70,293.70 L189.19,293.80 L189.68,293.91 L190.17,294.02 L190.66,294.13 L191.15,294.24 L191.63,294.35 L192.12,294.46 L192.61,294.57 L193.10,294.69 L193.58,294.80 L194.07,294.92 L194.55,295.04 L195.04,295.16 L195.53,295.28 L196.01,295.40 L196.50,295.52 L196.98,295.64 L197.46,295.77 L197.95,295.90 L198.43,296.02 L198.92,296.15 L199.40,296.28 L199.88,296.41 L200.36,296.55 L200.84,296.68 L201.33,296.82 L201.81,296.95 L202.29,297.09 L202.77,297.23 L203.25,297.37 L203.73,297.51 L204.21,297.65 L204.69,297.80 L205.17,297.94 L205.64,298.09 L206.12,298.24 L206.60,298.39 L207.08,298.54 L207.55,298.69 L208.03,298.84 L208.50,299.00 L208.98,299.15 L209.45,299.31 L209.93,299.47 L210.40,299.63 L210.87,299.79 L211.35,299.96 L211.82,300.12 L212.29,300.29 L212.76,300.45 L213.23,300.62 L213.70,300.79 L214.17,300.96 L214.64,301.14 L215.11,301.31 L215.58,301.49 L216.05,301.66 L216.51,301.84 L216.98,302.02 L217.45,302.21 L217.91,302.39 L218.38,302.57 L218.84,302.76 L219.30,302.95 L219.77,303.14 L220.23,303.33 L220.69,303.52 L221.15,303.71 L221.61,303.91 L222.07,304.10 L222.53,304.30 L222.99,304.50 L223.45,304.70 L223.91,304.91 L224.36,305.11 L224.82,305.32 L225.27,305.52 L225.73,305.73 L226.18,305.94 L226.64,306.15 L227.09,306.37 L227.54,306.58 L227.99,306.80 L228.44,307.02 L228.89,307.24 L229.34,307.46 L229.79,307.68 L230.23,307.90 L230.68,308.13 L231.13,308.35 L231.57,308.58 L232.02,308.81 L232.46,309.04 L232.90,309.27 L233.35,309.51 L233.79,309.74 L234.23,309.98 L234.67,310.21 L235.11,310.45 L235.55,310.69 L235.99,310.93 L236.43,311.17 L236.86,311.41 L237.30,311.66 L237.74,311.90 L238.17,312.15 L238.61,312.39 L239.04,312.64 L239.48,312.89 L239.91,313.14 L240.34,313.39 L240.78,313.64 L241.21,313.89 L241.64,314.14 L242.07,314.40 L242.50,314.65 L242.93,314.91 L243.36,315.16 L243.79,315.42 L244.22,315.68 L244.65,315.94 L245.08,316.19 L245.50,316.45 L245.93,316.71 L246.36,316.97 L246.78,317.23 L247.21,317.50 L247.64,317.76 L248.06,318.02 L248.49,318.28 L248.91,318.55 L249.34,318.81 L249.76,319.08 L250.19,319.34 L250.61,319.61 L251.03,319.87 L251.46,320.14 L251.88,320.40 L252.30,320.67 L252.73,320.94 L253.15,321.20 L253.57,321.47 L253.99,321.74 L254.42,322.01 L254.84,322.28 L255.26,322.54 L255.68,322.81 L256.10,323.08 L256.53,323.35 L256.95,323.62 L257.37,323.89 L257.79,324.16 L258.21,324.43 L258.63,324.70 L259.06,324.97 L259.48,325.24 L259.90,325.50 L260.32,325.77 L260.74,326.04 L261.16,326.31 L261.58,326.58 L262.01,326.85 L262.43,327.12 L262.85,327.39 L263.27,327.66 L263.69,327.93 L264.12,328.19 L264.54,328.46 L264.96,328.73 L265.38,329.00 L265.81,329.26 L266.23,329.53 L266.65,329.80 L267.08,330.06 L267.50,330.32 L267.93,330.58 L268.36,330.84 L268.78,331.10 L269.21,331.36 L269.64,331.62 L270.07,331.87 L270.51,332.12 L270.94,332.37 L271.38,332.61 L271.81,332.86 L272.25,333.10 L272.69,333.33 L273.14,333.57 L273.58,333.80 L274.03,334.02 L274.48,334.24 L274.93,334.46 L275.38,334.67 L275.83,334.88 L276.29,335.09 L276.75,335.28 L277.21,335.48 L277.67,335.66 L278.14,335.84 L278.61,336.02 L279.08,336.19 L279.55,336.35 L280.03,336.50 L280.51,336.65 L280.99,336.79 L281.47,336.92 L281.96,337.04 L282.44,337.15 L282.93,337.25 L283.42,337.35 L283.92,337.43 L284.41,337.51 L284.91,337.57 L285.40,337.63 L285.90,337.67 L286.40,337.71 L286.90,337.74 L287.40,337.75 L287.90,337.76 L288.40,337.76 L288.90,337.75 L289.40,337.73 L289.90,337.70 L290.40,337.66 L290.90,337.62 L291.39,337.56 L291.89,337.50 L292.39,337.43 L292.88,337.35 L293.37,337.26 L293.86,337.17 L294.35,337.07 L294.84,336.96 L295.33,336.84 L295.81,336.72 L296.29,336.59 L296.78,336.45 L297.25,336.31 L297.73,336.16 L298.21,336.00 L298.68,335.84 L299.15,335.67 L299.62,335.50 L300.09,335.32 L300.55,335.13 L301.01,334.94 L301.48,334.75 L301.94,334.55 L302.39,334.35 L302.85,334.15 L303.30,333.94 L303.76,333.73 L304.21,333.51 L304.66,333.29 L305.10,333.07 L305.55,332.84 L306.00,332.61 L306.44,332.38 L306.88,332.15 L307.32,331.92 L307.77,331.68 L308.20,331.44 L308.64,331.20 L309.08,330.96 L309.52,330.71 L309.95,330.47 L310.39,330.22 L310.82,329.98 L311.26,329.73 L311.69,329.48 L312.13,329.23 L312.56,328.98 L312.99,328.73 L313.42,328.48 L313.86,328.23 L314.29,327.98 L314.72,327.73 L315.16,327.48 L315.59,327.23 L316.02,326.98 L316.46,326.73 L316.89,326.48 L317.32,326.23 L317.76,325.99 L318.20,325.74 L318.63,325.50 L319.07,325.25 L319.51,325.01 L319.95,324.77 L320.38,324.53 L320.82,324.29 L321.26,324.06 L321.71,323.82 L322.15,323.58 L322.59,323.35 L323.03,323.12 L323.48,322.89 L323.92,322.66 L324.36,322.43 L324.81,322.20 L325.26,321.97 L325.70,321.75 L326.15,321.52 L326.60,321.30 L327.05,321.08 L327.50,320.86 L327.95,320.64 L328.40,320.43 L328.85,320.21 L329.30,320.00 L329.75,319.78 L330.20,319.57 L330.66,319.36 L331.11,319.15 L331.57,318.95 L332.02,318.74 L332.48,318.54 L332.94,318.33 L333.40,318.13 L333.85,317.93 L334.31,317.74 L334.77,317.54 L335.23,317.34 L335.70,317.15 L336.16,316.96 L336.62,316.77 L337.08,316.58 L337.55,316.39 L338.01,316.21 L338.48,316.02 L338.94,315.84 L339.41,315.66 L339.87,315.48 L340.34,315.30 L340.81,315.12 L341.28,314.95 L341.75,314.77 L342.22,314.60 L342.69,314.43 L343.16,314.26 L343.63,314.09 L344.10,313.92 L344.57,313.76 L345.04,313.59 L345.52,313.43 L345.99,313.27 L346.46,313.11 L346.94,312.95 L347.41,312.79 L347.89,312.63 L348.36,312.47 L348.84,312.32 L349.31,312.16 L349.79,312.01 L350.26,311.86 L350.74,311.71 L351.22,311.56 L351.69,311.41 L352.17,311.26 L352.65,311.11 L353.13,310.97 L353.61,310.82 L354.09,310.68 L354.56,310.53 L355.04,310.39 L355.52,310.25 L356.00,310.11 L356.48,309.96 L356.96,309.82 L357.44,309.69 L357.92,309.55 L358.41,309.41 L358.89,309.27 L359.37,309.14 L359.85,309.00 L360.33,308.87 L360.81,308.73 L361.29,308.60 L361.78,308.46 L362.26,308.33 L362.74,308.20 L363.22,308.07 L363.71,307.94 L364.19,307.81 L364.67,307.68 L365.15,307.55 L365.64,307.42 L366.12,307.29 L366.60,307.16 L367.09,307.03 L367.57,306.90 L368.06,306.78 L368.54,306.65 L369.02,306.52 L369.51,306.40 L369.99,306.27 L370.47,306.14 L370.96,306.02 L371.44,305.89 L371.93,305.77 L372.41,305.64 L372.89,305.51 L373.38,305.39 L373.86,305.26 L374.35,305.14 L374.83,305.01 L375.32,304.89 L375.80,304.76 L376.28,304.64 L376.77,304.51 L377.25,304.39 L377.74,304.26 L378.22,304.14 L378.71,304.01 L379.19,303.89 L379.67,303.76 L380.16,303.64 L380.64,303.51 L381.13,303.39 L381.61,303.26 L382.10,303.14 L382.58,303.01 L383.06,302.89 L383.55,302.76 L384.03,302.64 L384.52,302.51 L385.00,302.39 L385.48,302.26 L385.97,302.13 L386.45,302.01 L386.94,301.88 L387.42,301.76 L387.90,301.63 L388.39,301.51 L388.87,301.38 L389.36,301.25 L389.84,301.13 L390.33,301.00 L390.81,300.88 L391.29,300.75 L391.78,300.63 L392.26,300.50 L392.75,300.37 L393.23,300.25 L393.71,300.12 L394.20,300.00 L394.68,299.87 L395.17,299.74 L395.65,299.62 L396.13,299.49 L396.62,299.37 L397.10,299.24 L397.59,299.12 L398.07,298.99 L398.55,298.86 L399.04,298.74 L399.52,298.61 L400.01,298.49 L400.49,298.36 L400.97,298.24 L401.46,298.11 L401.94,297.98 L402.43,297.86 L402.91,297.73 L403.40,297.61 L403.88,297.48 L404.36,297.36 L404.85,297.23 L405.33,297.10 L405.82,296.98 L406.30,296.85 L406.78,296.73 L407.27,296.60 L407.75,296.48 L408.24,296.35 L408.72,296.23 L409.20,296.10 L409.69,295.98 L410.17,295.85 L410.66,295.72 L411.14,295.60 L411.63,295.47 L412.11,295.35 L412.59,295.22 L413.08,295.10 L413.56,294.97 L414.05,294.85 L414.53,294.72 L415.02,294.60 L415.50,294.47 L415.98,294.35 L416.47,294.23 L416.95,294.10 L417.44,293.98 L417.92,293.85 L418.41,293.73 L418.89,293.60 L419.37,293.48 L419.86,293.35 L420.34,293.23 L420.83,293.11 L421.31,292.98 L421.80,292.86 L422.28,292.73 L422.77,292.61 L423.25,292.49 L423.74,292.36 L424.22,292.24 L424.70,292.11 L425.19,291.99 L425.67,291.87 L426.16,291.74 L426.64,291.62 L427.13,291.50 L427.61,291.37 L428.10,291.25 L428.58,291.13 L429.07,291.00 L429.55,290.88 L430.04,290.76 L430.52,290.64 L431.01,290.51 L431.49,290.39 L431.98,290.27 L432.46,290.15 L432.95,290.02 L433.43,289.90 L433.92,289.78 L434.40,289.66 L434.89,289.54 L435.37,289.41 L435.86,289.29 L436.34,289.17 L436.83,289.05 L437.31,288.93 L437.80,288.81 L438.28,288.69 L438.77,288.57 L439.25,288.44 L439.74,288.32 L440.22,288.20 L440.71,288.08 L441.19,287.96 L441.68,287.84 L442.17,287.72 L442.65,287.60 L443.14,287.48 L443.62,287.36 L444.11,287.24 L444.59,287.12 L445.08,287.00 L445.56,286.88 L446.05,286.76 L446.54,286.64 L447.02,286.52 L447.51,286.41 L447.99,286.29 L448.48,286.17 L448.97,286.05 L449.45,285.93 L449.94,285.81 L450.42,285.70 L450.91,285.58 L451.40,285.46 L451.88,285.34 L452.37,285.23 L452.85,285.11 L453.34,284.99 L453.83,284.87 L454.31,284.76 L454.80,284.64 L455.29,284.53 L455.77,284.41 L456.26,284.30 L456.75,284.18 L457.23,284.07 L457.72,283.95 L458.21,283.84 L458.69,283.72 L459.18,283.61 L459.67,283.50 L460.16,283.39 L460.64,283.27 L461.13,283.16 L461.62,283.05 L462.11,282.94 L462.59,282.83 L463.08,282.72 L463.57,282.61 L464.06,282.50 L464.55,282.39 L465.03,282.28 L465.52,282.17 L466.01,282.07 L466.50,281.96 L466.99,281.85 L467.48,281.75 L467.97,281.64 L468.45,281.54 L468.94,281.43 L469.43,281.33 L469.92,281.22 L470.41,281.12 L470.90,281.02 L471.39,280.92 L471.88,280.82 L472.37,280.72 L472.86,280.62 L473.35,280.52 L473.84,280.42 L474.33,280.32 L474.82,280.22 L475.31,280.13 L475.80,280.03 L476.29,279.94 L476.79,279.84 L477.28,279.75 L477.77,279.65 L478.26,279.56 L478.75,279.47 L479.24,279.38 L479.74,279.29 L480.23,279.20 L480.72,279.11 L481.21,279.02 L481.70,278.94 L482.20,278.85 L482.69,278.76 L483.18,278.68 L483.68,278.60 L484.17,278.51 L484.66,278.43 L485.16,278.35 L485.65,278.27 L486.14,278.19 L486.64,278.11 L487.13,278.03 L487.63,277.96 L488.12,277.88 L488.61,277.80 L489.11,277.73 L489.60,277.66 L490.10,277.58 L490.59,277.51 L491.09,277.44 L491.58,277.37 L492.08,277.31 L492.57,277.24 L493.07,277.17 L493.57,277.11 L494.06,277.04 L494.56,276.98 L495.06,276.92 L495.55,276.86 L496.05,276.80 L496.54,276.74 L497.04,276.68 L497.54,276.63 L498.04,276.57 L498.53,276.52 L499.03,276.46 L499.53,276.41 L500.03,276.36 L500.52,276.31 L501.02,276.26 L501.52,276.22 L502.02,276.17 L502.51,276.12 L503.01,276.08 L503.51,276.04 L504.01,276.00 L504.51,275.96 L505.01,275.92 L505.51,275.88 L506.00,275.85 L506.50,275.81 L507.00,275.78 L507.50,275.75 L508.00,275.72 L508.50,275.69 L509.00,275.66 L509.50,275.63 L510.00,275.61 L510.50,275.58 L511.00,275.56 L511.50,275.54 L512.00,275.52 L512.50,275.50 L513.00,275.49" fill="none" stroke="#000" stroke-width="1.85" stroke-linejoin="round"/>
<path d="M87.60,300.00 L88.10,300.05 L88.60,300.10 L89.10,300.15 L89.60,300.20 L90.09,300.26 L90.59,300.31 L91.09,300.37 L91.59,300.43 L92.08,300.49 L92.58,300.55 L93.08,300.62 L93.57,300.68 L94.07,300.75 L94.56,300.82 L95.06,300.89 L95.55,300.97 L96.05,301.04 L96.54,301.12 L97.04,301.20 L97.53,301.28 L98.03,301.36 L98.52,301.44 L99.01,301.53 L99.50,301.61 L100.00,301.70 L100.49,301.79 L100.98,301.89 L101.47,301.98 L101.96,302.08 L102.45,302.18 L102.94,302.28 L103.43,302.38 L103.92,302.48 L104.41,302.59 L104.90,302.70 L105.39,302.81 L105.88,302.92 L106.37,303.03 L106.85,303.15 L107.34,303.27 L107.82,303.39 L108.31,303.51 L108.80,303.63 L109.28,303.76 L109.76,303.89 L110.25,304.02 L110.73,304.15 L111.21,304.28 L111.69,304.42 L112.17,304.56 L112.65,304.70 L113.13,304.84 L113.61,304.99 L114.09,305.13 L114.57,305.28 L115.05,305.44 L115.52,305.59 L116.00,305.74 L116.47,305.90 L116.95,306.06 L117.42,306.23 L117.89,306.39 L118.37,306.56 L118.84,306.73 L119.31,306.90 L119.78,307.07 L120.24,307.25 L120.71,307.43 L121.18,307.61 L121.64,307.79 L122.11,307.98 L122.57,308.17 L123.03,308.36 L123.50,308.55 L123.96,308.75 L124.42,308.95 L124.87,309.15 L125.33,309.35 L125.79,309.55 L126.24,309.76 L126.70,309.97 L127.15,310.19 L127.60,310.40 L128.05,310.62 L128.50,310.84 L128.95,311.07 L129.40,311.29 L129.84,311.52 L130.28,311.75 L130.73,311.99 L131.17,312.22 L131.61,312.46 L132.04,312.71 L132.48,312.95 L132.92,313.20 L133.35,313.45 L133.78,313.70 L134.21,313.96 L134.64,314.22 L135.07,314.48 L135.49,314.74 L135.91,315.01 L136.34,315.28 L136.75,315.55 L137.17,315.83 L137.59,316.11 L138.00,316.39 L138.41,316.67 L138.82,316.96 L139.23,317.25 L139.64,317.54 L140.04,317.84 L140.45,318.13 L140.85,318.43 L141.25,318.74 L141.64,319.04 L142.04,319.35 L142.43,319.66 L142.83,319.97 L143.22,320.28 L143.61,320.59 L143.99,320.91 L144.38,321.23 L144.76,321.55 L145.15,321.87 L145.53,322.19 L145.91,322.52 L146.29,322.84 L146.67,323.17 L147.05,323.50 L147.42,323.83 L147.80,324.16 L148.18,324.49 L148.55,324.82 L148.92,325.16 L149.29,325.49 L149.67,325.83 L150.04,326.16 L150.41,326.50 L150.77,326.84 L151.14,327.18 L151.51,327.52 L151.88,327.86 L152.25,328.20 L152.61,328.54 L152.98,328.88 L153.35,329.22 L153.71,329.56 L154.08,329.90 L154.45,330.24 L154.81,330.58 L155.18,330.92 L155.54,331.27 L155.91,331.61 L156.28,331.95 L156.64,332.29 L157.01,332.63 L157.38,332.97 L157.74,333.31 L158.11,333.65 L158.48,333.99 L158.85,334.33 L159.22,334.67 L159.59,335.00 L159.96,335.34 L160.33,335.68 L160.70,336.01 L161.07,336.35 L161.44,336.68 L161.82,337.01 L162.19,337.34 L162.57,337.67 L162.94,338.00 L163.32,338.33 L163.70,338.66 L164.08,338.98 L164.47,339.31 L164.85,339.63 L165.24,339.94 L165.63,340.25 L166.02,340.56 L166.42,340.87 L166.82,341.16 L167.23,341.46 L167.64,341.74 L168.06,342.02 L168.48,342.29 L168.91,342.55 L169.34,342.80 L169.78,343.04 L170.22,343.27 L170.67,343.49 L171.13,343.69 L171.60,343.88 L172.07,344.05 L172.54,344.20 L173.02,344.34 L173.51,344.46 L174.00,344.56 L174.50,344.64 L174.99,344.70 L175.49,344.74 L175.99,344.76 L176.49,344.76 L176.99,344.74 L177.49,344.70 L177.99,344.63 L178.48,344.54 L178.97,344.43 L179.45,344.30 L179.93,344.15 L180.40,343.99 L180.86,343.80 L181.32,343.60 L181.77,343.39 L182.22,343.16 L182.66,342.91 L183.09,342.66 L183.51,342.39 L183.93,342.12 L184.34,341.83 L184.75,341.54 L185.15,341.24 L185.54,340.93 L185.93,340.61 L186.31,340.29 L186.69,339.96 L187.06,339.63 L187.43,339.29 L187.79,338.94 L188.15,338.59 L188.50,338.24 L188.86,337.88 L189.20,337.52 L189.55,337.16 L189.89,336.79 L190.22,336.42 L190.56,336.05 L190.89,335.67 L191.22,335.30 L191.54,334.92 L191.87,334.54 L192.19,334.15 L192.51,333.77 L192.83,333.38 L193.15,332.99 L193.46,332.61 L193.78,332.22 L194.09,331.83 L194.40,331.44 L194.72,331.05 L195.03,330.66 L195.35,330.27 L195.66,329.88 L195.98,329.49 L196.30,329.11 L196.62,328.72 L196.94,328.34 L197.26,327.95 L197.59,327.58 L197.92,327.20 L198.25,326.82 L198.58,326.45 L198.92,326.08 L199.26,325.71 L199.60,325.34 L199.94,324.98 L200.28,324.62 L200.63,324.26 L200.98,323.90 L201.33,323.54 L201.68,323.19 L202.04,322.83 L202.40,322.48 L202.76,322.13 L203.12,321.79 L203.48,321.44 L203.84,321.10 L204.21,320.75 L204.57,320.41 L204.94,320.07 L205.31,319.73 L205.68,319.40 L206.05,319.06 L206.42,318.73 L206.80,318.39 L207.17,318.06 L207.55,317.73 L207.92,317.40 L208.30,317.07 L208.68,316.75 L209.06,316.42 L209.44,316.09 L209.82,315.77 L210.20,315.44 L210.58,315.12 L210.96,314.80 L211.35,314.48 L211.73,314.16 L212.12,313.84 L212.51,313.52 L212.89,313.20 L213.28,312.89 L213.67,312.58 L214.07,312.27 L214.46,311.96 L214.86,311.65 L215.25,311.35 L215.65,311.05 L216.05,310.75 L216.46,310.45 L216.86,310.15 L217.27,309.86 L217.68,309.57 L218.09,309.29 L218.50,309.01 L218.92,308.73 L219.34,308.45 L219.76,308.18 L220.18,307.91 L220.60,307.65 L221.03,307.39 L221.46,307.13 L221.89,306.87 L222.32,306.62 L222.75,306.36 L223.18,306.11 L223.62,305.87 L224.06,305.62 L224.49,305.38 L224.93,305.14 L225.37,304.90 L225.81,304.66 L226.25,304.43 L226.70,304.19 L227.14,303.96 L227.58,303.72 L228.02,303.49 L228.47,303.26 L228.91,303.03 L229.36,302.80 L229.80,302.57 L230.25,302.35 L230.70,302.12 L231.14,301.89 L231.59,301.67 L232.04,301.45 L232.49,301.22 L232.93,301.00 L233.38,300.78 L233.83,300.56 L234.28,300.34 L234.74,300.13 L235.19,299.91 L235.64,299.70 L236.09,299.48 L236.55,299.27 L237.00,299.06 L237.45,298.85 L237.91,298.64 L238.37,298.44 L238.82,298.23 L239.28,298.03 L239.74,297.83 L240.20,297.63 L240.65,297.43 L241.11,297.23 L241.58,297.03 L242.04,296.84 L242.50,296.65 L242.96,296.46 L243.43,296.27 L243.89,296.08 L244.35,295.90 L244.82,295.71 L245.29,295.53 L245.75,295.35 L246.22,295.17 L246.69,295.00 L247.16,294.82 L247.63,294.65 L248.10,294.48 L248.57,294.31 L249.04,294.15 L249.52,293.98 L249.99,293.82 L250.46,293.66 L250.94,293.50 L251.41,293.35 L251.89,293.19 L252.37,293.04 L252.84,292.89 L253.32,292.74 L253.80,292.59 L254.28,292.45 L254.76,292.31 L255.24,292.17 L255.72,292.03 L256.20,291.89 L256.68,291.76 L257.17,291.62 L257.65,291.49 L258.13,291.36 L258.62,291.24 L259.10,291.11 L259.59,290.99 L260.07,290.87 L260.56,290.75 L261.05,290.63 L261.53,290.52 L262.02,290.40 L262.51,290.29 L263.00,290.18 L263.49,290.07 L263.97,289.97 L264.46,289.87 L264.95,289.76 L265.44,289.66 L265.94,289.57 L266.43,289.47 L266.92,289.37 L267.41,289.28 L267.90,289.19 L268.40,289.10 L268.89,289.02 L269.38,288.93 L269.87,288.85 L270.37,288.77 L270.86,288.69 L271.36,288.61 L271.85,288.54 L272.35,288.46 L272.84,288.39 L273.34,288.32 L273.83,288.25 L274.33,288.19 L274.83,288.12 L275.32,288.06 L275.82,288.00 L276.32,287.94 L276.81,287.88 L277.31,287.83 L277.81,287.77 L278.31,287.72 L278.80,287.67 L279.30,287.62 L279.80,287.58 L280.30,287.53 L280.80,287.49 L281.30,287.45 L281.80,287.41 L282.30,287.37 L282.79,287.33 L283.29,287.30 L283.79,287.27 L284.29,287.24 L284.79,287.21 L285.29,287.18 L285.79,287.16 L286.29,287.13 L286.79,287.11 L287.29,287.09 L287.79,287.07 L288.29,287.05 L288.79,287.04 L289.29,287.03 L289.79,287.01 L290.29,287.00 L290.79,287.00 L291.29,286.99 L291.80,286.98 L292.30,286.98 L292.80,286.98 L293.30,286.98 L293.80,286.98 L294.30,286.98 L294.80,286.99 L295.30,287.00 L295.80,287.00 L296.30,287.01 L296.80,287.03 L297.30,287.04 L297.80,287.06 L298.30,287.07 L298.80,287.09 L299.30,287.12 L299.80,287.14 L300.30,287.16 L300.80,287.19 L301.30,287.22 L301.80,287.25 L302.30,287.28 L302.80,287.31 L303.30,287.35 L303.80,287.39 L304.30,287.43 L304.79,287.47 L305.29,287.51 L305.79,287.56 L306.29,287.60 L306.79,287.65 L307.29,287.70 L307.78,287.76 L308.28,287.81 L308.78,287.87 L309.28,287.93 L309.77,287.99 L310.27,288.05 L310.76,288.12 L311.26,288.18 L311.76,288.25 L312.25,288.32 L312.75,288.39 L313.24,288.47 L313.74,288.55 L314.23,288.62 L314.73,288.70 L315.22,288.79 L315.71,288.87 L316.21,288.96 L316.70,289.05 L317.19,289.14 L317.68,289.23 L318.17,289.33 L318.66,289.42 L319.15,289.52 L319.64,289.62 L320.13,289.73 L320.62,289.83 L321.11,289.94 L321.60,290.05 L322.09,290.16 L322.58,290.28 L323.06,290.39 L323.55,290.51 L324.03,290.63 L324.52,290.76 L325.00,290.88 L325.49,291.01 L325.97,291.14 L326.45,291.27 L326.94,291.41 L327.42,291.54 L327.90,291.68 L328.38,291.82 L328.86,291.96 L329.34,292.11 L329.82,292.26 L330.29,292.41 L330.77,292.56 L331.25,292.71 L331.72,292.87 L332.20,293.03 L332.67,293.19 L333.14,293.36 L333.61,293.52 L334.09,293.69 L334.56,293.86 L335.03,294.03 L335.49,294.21 L335.96,294.39 L336.43,294.57 L336.90,294.75 L337.36,294.94 L337.82,295.12 L338.29,295.31 L338.75,295.51 L339.21,295.70 L339.67,295.90 L340.13,296.10 L340.59,296.30 L341.04,296.50 L341.50,296.71 L341.96,296.92 L342.41,297.13 L342.86,297.34 L343.31,297.56 L343.76,297.78 L344.21,298.00 L344.66,298.22 L345.11,298.45 L345.55,298.68 L345.99,298.91 L346.44,299.14 L346.88,299.38 L347.32,299.62 L347.76,299.86 L348.19,300.10 L348.63,300.35 L349.06,300.60 L349.50,300.85 L349.93,301.10 L350.36,301.36 L350.79,301.62 L351.22,301.88 L351.64,302.14 L352.06,302.41 L352.49,302.67 L352.91,302.95 L353.33,303.22 L353.74,303.50 L354.16,303.77 L354.57,304.06 L354.99,304.34 L355.40,304.62 L355.81,304.91 L356.21,305.20 L356.62,305.50 L357.02,305.80 L357.42,306.09 L357.82,306.40 L358.22,306.70 L358.62,307.01 L359.01,307.32 L359.40,307.63 L359.79,307.94 L360.18,308.26 L360.56,308.58 L360.95,308.90 L361.33,309.22 L361.71,309.55 L362.08,309.88 L362.46,310.21 L362.83,310.55 L363.20,310.89 L363.57,311.23 L363.93,311.57 L364.29,311.91 L364.65,312.26 L365.01,312.61 L365.37,312.96 L365.72,313.32 L366.07,313.68 L366.42,314.04 L366.76,314.40 L367.10,314.76 L367.44,315.13 L367.78,315.50 L368.12,315.87 L368.45,316.25 L368.78,316.63 L369.10,317.00 L369.43,317.39 L369.75,317.77 L370.07,318.15 L370.39,318.54 L370.70,318.93 L371.01,319.32 L371.32,319.72 L371.63,320.11 L371.93,320.51 L372.23,320.91 L372.53,321.31 L372.83,321.71 L373.12,322.12 L373.41,322.53 L373.70,322.93 L373.99,323.35 L374.27,323.76 L374.55,324.17 L374.83,324.59 L375.11,325.00 L375.38,325.42 L375.66,325.84 L375.92,326.27 L376.19,326.69 L376.46,327.11 L376.72,327.54 L376.98,327.97 L377.23,328.40 L377.49,328.83 L377.74,329.26 L377.99,329.69 L378.24,330.13 L378.48,330.57 L378.72,331.00 L378.96,331.44 L379.20,331.88 L379.44,332.33 L379.67,332.77 L379.90,333.21 L380.13,333.66 L380.36,334.10 L380.58,334.55 L380.80,335.00 L381.02,335.45 L381.24,335.90 L381.45,336.35 L381.66,336.81 L381.87,337.26 L382.08,337.72 L382.29,338.17 L382.49,338.63 L382.69,339.09 L382.89,339.55 L383.08,340.01 L383.28,340.47 L383.47,340.93 L383.66,341.40 L383.85,341.86 L384.03,342.33 L384.22,342.79 L384.40,343.26 L384.58,343.73 L384.75,344.19 L384.93,344.66 L385.10,345.13 L385.27,345.60 L385.44,346.07 L385.61,346.55 L385.77,347.02 L385.93,347.49 L386.09,347.97 L386.25,348.44 L386.41,348.92 L386.57,349.39 L386.72,349.87 L386.87,350.34 L387.02,350.82 L387.17,351.30 L387.32,351.78 L387.46,352.26 L387.61,352.74 L387.75,353.22 L387.89,353.70 L388.03,354.18 L388.16,354.66 L388.30,355.14 L388.43,355.62 L388.57,356.11 L388.70,356.59 L388.83,357.07 L388.96,357.56 L389.08,358.04 L389.21,358.53 L389.33,359.01 L389.45,359.50 L389.58,359.98 L389.70,360.47 L389.82,360.95 L389.93,361.44 L390.05,361.93 L390.17,362.41 L390.28,362.90 L390.39,363.39 L390.51,363.88 L390.62,364.36 L390.73,364.85 L390.84,365.34 L390.94,365.83 L391.05,366.32 L391.16,366.81 L391.26,367.30 L391.37,367.79 L391.47,368.28 L391.57,368.76 L391.68,369.25 L391.78,369.74 L391.88,370.24 L391.98,370.73 L392.08,371.22 L392.17,371.71 L392.27,372.20 L392.37,372.69 L392.47,373.18 L392.56,373.67 L392.66,374.16 L392.75,374.65 L392.85,375.15 L392.94,375.64 L393.03,376.13 L393.13,376.62 L393.22,377.11 L393.31,377.60 L393.40,378.10 L393.49,378.59 L393.58,379.08 L393.67,379.57 L393.76,380.07 L393.85,380.56 L393.94,381.05 L394.03,381.54 L394.11,382.04 L394.20,382.53 L394.29,383.02 L394.37,383.52 L394.46,384.01 L394.54,384.50 L394.62,385.00 L394.71,385.49 L394.79,385.98 L394.87,386.48 L394.95,386.97 L395.03,387.47 L395.11,387.96 L395.19,388.45 L395.27,388.95 L395.35,389.44 L395.42,389.94 L395.50,390.43 L395.58,390.93 L395.65,391.42 L395.73,391.92 L395.80,392.41 L395.87,392.91 L395.95,393.40 L396.02,393.90 L396.09,394.39 L396.16,394.89 L396.23,395.38 L396.30,395.88 L396.37,396.37 L396.44,396.87 L396.50,397.37 L396.57,397.86 L396.64,398.36 L396.70,398.85 L396.77,399.35 L396.83,399.85 L396.89,400.34 L396.96,400.84 L397.02,401.34 L397.08,401.83 L397.14,402.33 L397.20,402.83 L397.26,403.32 L397.31,403.82 L397.37,404.32 L397.43,404.82 L397.48,405.31 L397.54,405.81 L397.59,406.31 L397.65,406.81 L397.70,407.30 L397.75,407.80 L397.80,408.30 L400.10,430.80 L401.70,408.30 L401.73,407.80 L401.77,407.30 L401.81,406.80 L401.86,406.30 L401.90,405.80 L401.94,405.30 L401.98,404.80 L402.03,404.30 L402.07,403.80 L402.12,403.31 L402.16,402.81 L402.21,402.31 L402.26,401.81 L402.30,401.31 L402.35,400.81 L402.40,400.31 L402.45,399.81 L402.50,399.31 L402.56,398.82 L402.61,398.32 L402.66,397.82 L402.71,397.32 L402.77,396.82 L402.82,396.32 L402.88,395.83 L402.93,395.33 L402.99,394.83 L403.05,394.33 L403.11,393.84 L403.17,393.34 L403.22,392.84 L403.28,392.34 L403.34,391.84 L403.41,391.35 L403.47,390.85 L403.53,390.35 L403.59,389.86 L403.66,389.36 L403.72,388.86 L403.78,388.36 L403.85,387.87 L403.91,387.37 L403.98,386.87 L404.05,386.38 L404.11,385.88 L404.18,385.38 L404.25,384.89 L404.32,384.39 L404.39,383.89 L404.46,383.40 L404.53,382.90 L404.60,382.41 L404.67,381.91 L404.74,381.41 L404.81,380.92 L404.88,380.42 L404.96,379.93 L405.03,379.43 L405.10,378.93 L405.18,378.44 L405.25,377.94 L405.33,377.45 L405.40,376.95 L405.48,376.46 L405.55,375.96 L405.63,375.47 L405.71,374.97 L405.78,374.48 L405.86,373.98 L405.94,373.48 L406.02,372.99 L406.10,372.49 L406.18,372.00 L406.26,371.51 L406.34,371.01 L406.42,370.52 L406.50,370.02 L406.58,369.53 L406.67,369.03 L406.75,368.54 L406.84,368.05 L406.92,367.55 L407.01,367.06 L407.10,366.56 L407.19,366.07 L407.28,365.58 L407.37,365.09 L407.46,364.59 L407.56,364.10 L407.65,363.61 L407.75,363.12 L407.85,362.63 L407.94,362.13 L408.05,361.64 L408.15,361.15 L408.25,360.66 L408.36,360.17 L408.46,359.68 L408.57,359.19 L408.68,358.71 L408.80,358.22 L408.91,357.73 L409.03,357.24 L409.15,356.75 L409.27,356.27 L409.39,355.78 L409.51,355.30 L409.64,354.81 L409.77,354.33 L409.90,353.84 L410.03,353.36 L410.17,352.88 L410.30,352.40 L410.44,351.91 L410.59,351.43 L410.73,350.95 L410.88,350.48 L411.03,350.00 L411.18,349.52 L411.34,349.04 L411.49,348.57 L411.65,348.09 L411.82,347.62 L411.98,347.15 L412.15,346.67 L412.32,346.20 L412.50,345.73 L412.67,345.26 L412.85,344.80 L413.03,344.33 L413.22,343.86 L413.40,343.40 L413.59,342.93 L413.78,342.47 L413.98,342.01 L414.17,341.55 L414.37,341.08 L414.57,340.62 L414.77,340.17 L414.97,339.71 L415.18,339.25 L415.38,338.79 L415.59,338.34 L415.80,337.88 L416.02,337.43 L416.23,336.98 L416.44,336.52 L416.66,336.07 L416.88,335.62 L417.10,335.17 L417.32,334.72 L417.54,334.27 L417.77,333.82 L417.99,333.38 L418.22,332.93 L418.45,332.48 L418.68,332.04 L418.91,331.59 L419.14,331.15 L419.37,330.70 L419.61,330.26 L419.84,329.82 L420.08,329.38 L420.31,328.93 L420.55,328.49 L420.79,328.05 L421.03,327.61 L421.27,327.17 L421.51,326.73 L421.75,326.29 L421.99,325.85 L422.23,325.41 L422.48,324.98 L422.72,324.54 L422.96,324.10 L423.21,323.66 L423.45,323.22 L423.70,322.79 L423.94,322.35 L424.19,321.91 L424.43,321.48 L424.68,321.04 L424.92,320.60 L425.17,320.17 L425.42,319.73 L425.66,319.29 L425.91,318.86 L426.16,318.42 L426.41,317.99 L426.66,317.55 L426.91,317.12 L427.16,316.69 L427.42,316.25 L427.67,315.82 L427.93,315.39 L428.19,314.96 L428.45,314.53 L428.71,314.11 L428.97,313.68 L429.24,313.26 L429.51,312.83 L429.78,312.41 L430.05,311.99 L430.32,311.57 L430.60,311.16 L430.88,310.74 L431.17,310.33 L431.46,309.92 L431.75,309.51 L432.04,309.10 L432.34,308.70 L432.64,308.30 L432.94,307.90 L433.25,307.50 L433.56,307.11 L433.88,306.72 L434.20,306.34 L434.52,305.95 L434.85,305.58 L435.18,305.20 L435.52,304.83 L435.86,304.46 L436.20,304.10 L436.55,303.74 L436.90,303.38 L437.26,303.02 L437.62,302.67 L437.98,302.33 L438.34,301.98 L438.71,301.65 L439.08,301.31 L439.46,300.98 L439.84,300.65 L440.22,300.32 L440.60,300.00 L440.99,299.68 L441.38,299.36 L441.77,299.05 L442.16,298.74 L442.56,298.44 L442.96,298.13 L443.36,297.83 L443.76,297.54 L444.17,297.24 L444.58,296.95 L444.99,296.67 L445.40,296.38 L445.82,296.10 L446.23,295.82 L446.65,295.55 L447.07,295.27 L447.49,295.00 L447.92,294.73 L448.34,294.47 L448.77,294.21 L449.20,293.95 L449.63,293.69 L450.06,293.44 L450.49,293.18 L450.93,292.93 L451.36,292.69 L451.80,292.44 L452.24,292.20 L452.68,291.96 L453.12,291.72 L453.56,291.48 L454.00,291.25 L454.45,291.01 L454.89,290.78 L455.34,290.56 L455.79,290.33 L456.23,290.10 L456.68,289.88 L457.13,289.66 L457.58,289.44 L458.04,289.23 L458.49,289.01 L458.94,288.80 L459.40,288.59 L459.85,288.38 L460.31,288.17 L460.76,287.96 L461.22,287.76 L461.68,287.55 L462.14,287.35 L462.60,287.15 L463.06,286.95 L463.52,286.75 L463.98,286.56 L464.44,286.36 L464.90,286.17 L465.37,285.98 L465.83,285.79 L466.29,285.60 L466.76,285.41 L467.22,285.22 L467.69,285.04 L468.15,284.85 L468.62,284.67 L469.09,284.49 L469.55,284.30 L470.02,284.12 L470.49,283.94 L470.96,283.77 L471.43,283.59 L471.90,283.42 L472.37,283.24 L472.84,283.07 L473.31,282.90 L473.78,282.73 L474.25,282.56 L474.73,282.39 L475.20,282.23 L475.67,282.07 L476.15,281.90 L476.62,281.74 L477.10,281.58 L477.57,281.43 L478.05,281.27 L478.53,281.12 L479.00,280.96 L479.48,280.81 L479.96,280.66 L480.44,280.51 L480.92,280.37 L481.40,280.22 L481.88,280.08 L482.36,279.94 L482.84,279.80 L483.32,279.67 L483.80,279.53 L484.29,279.40 L484.77,279.27 L485.26,279.14 L485.74,279.01 L486.23,278.88 L486.71,278.76 L487.20,278.64 L487.68,278.52 L488.17,278.40 L488.66,278.29 L489.15,278.17 L489.64,278.06 L490.13,277.95 L490.61,277.85 L491.10,277.74 L491.60,277.64 L492.09,277.54 L492.58,277.44 L493.07,277.34 L493.56,277.25 L494.06,277.16 L494.55,277.07 L495.04,276.99 L495.54,276.90 L496.03,276.82 L496.53,276.74 L497.02,276.66 L497.52,276.59 L498.01,276.52 L498.51,276.45 L499.01,276.38 L499.50,276.32 L500.00,276.26 L500.50,276.20 L501.00,276.14 L501.49,276.09 L501.99,276.04 L502.49,275.99 L502.99,275.94 L503.49,275.90 L503.99,275.86 L504.49,275.82 L504.99,275.78 L505.49,275.75 L505.99,275.72 L506.49,275.70 L506.99,275.67 L507.49,275.65 L507.99,275.63 L508.49,275.62 L508.99,275.60 L509.49,275.59 L510.00,275.59 L510.50,275.58 L511.00,275.58 L511.50,275.58 L512.00,275.59 L512.50,275.59 L513.00,275.61" fill="none" stroke="#bc2236" stroke-width="1.7" stroke-linejoin="miter" stroke-miterlimit="6"/>
<rect x="82.8" y="0.8" width="435.00" height="190.00" fill="none" stroke="#000" stroke-width="1.7"/>
<path d="M143.22,190.80v-10.8 M143.22,0.80v10.8 M203.63,190.80v-10.8 M203.63,0.80v10.8 M264.05,190.80v-10.8 M264.05,0.80v10.8 M324.47,190.80v-10.8 M324.47,0.80v10.8 M384.88,190.80v-10.8 M384.88,0.80v10.8 M445.30,190.80v-10.8 M445.30,0.80v10.8 M505.72,190.80v-10.8 M505.72,0.80v10.8 M82.80,188.72h5.2 M517.80,188.72h-5.2 M82.80,186.43h5.2 M517.80,186.43h-5.2 M82.80,184.41h5.2 M517.80,184.41h-5.2 M82.80,182.60h10.8 M517.80,182.60h-10.8 M82.80,170.71h5.2 M517.80,170.71h-5.2 M82.80,163.75h5.2 M517.80,163.75h-5.2 M82.80,158.82h5.2 M517.80,158.82h-5.2 M82.80,154.99h5.2 M517.80,154.99h-5.2 M82.80,151.86h5.2 M517.80,151.86h-5.2 M82.80,149.22h5.2 M517.80,149.22h-5.2 M82.80,146.93h5.2 M517.80,146.93h-5.2 M82.80,144.91h5.2 M517.80,144.91h-5.2 M82.80,143.10h10.8 M517.80,143.10h-10.8 M82.80,131.21h5.2 M517.80,131.21h-5.2 M82.80,124.25h5.2 M517.80,124.25h-5.2 M82.80,119.32h5.2 M517.80,119.32h-5.2 M82.80,115.49h5.2 M517.80,115.49h-5.2 M82.80,112.36h5.2 M517.80,112.36h-5.2 M82.80,109.72h5.2 M517.80,109.72h-5.2 M82.80,107.43h5.2 M517.80,107.43h-5.2 M82.80,105.41h5.2 M517.80,105.41h-5.2 M82.80,103.60h10.8 M517.80,103.60h-10.8 M82.80,91.71h5.2 M517.80,91.71h-5.2 M82.80,84.75h5.2 M517.80,84.75h-5.2 M82.80,79.82h5.2 M517.80,79.82h-5.2 M82.80,75.99h5.2 M517.80,75.99h-5.2 M82.80,72.86h5.2 M517.80,72.86h-5.2 M82.80,70.22h5.2 M517.80,70.22h-5.2 M82.80,67.93h5.2 M517.80,67.93h-5.2 M82.80,65.91h5.2 M517.80,65.91h-5.2 M82.80,64.10h10.8 M517.80,64.10h-10.8 M82.80,52.21h5.2 M517.80,52.21h-5.2 M82.80,45.25h5.2 M517.80,45.25h-5.2 M82.80,40.32h5.2 M517.80,40.32h-5.2 M82.80,36.49h5.2 M517.80,36.49h-5.2 M82.80,33.36h5.2 M517.80,33.36h-5.2 M82.80,30.72h5.2 M517.80,30.72h-5.2 M82.80,28.43h5.2 M517.80,28.43h-5.2 M82.80,26.41h5.2 M517.80,26.41h-5.2 M82.80,24.60h10.8 M517.80,24.60h-10.8 M82.80,12.71h5.2 M517.80,12.71h-5.2 M82.80,5.75h5.2 M517.80,5.75h-5.2" stroke="#000" stroke-width="1.15" fill="none"/>
<rect x="82.8" y="248.5" width="435.00" height="190.00" fill="none" stroke="#000" stroke-width="1.7"/>
<path d="M143.22,438.50v-10.8 M143.22,248.50v10.8 M203.63,438.50v-10.8 M203.63,248.50v10.8 M264.05,438.50v-10.8 M264.05,248.50v10.8 M324.47,438.50v-10.8 M324.47,248.50v10.8 M384.88,438.50v-10.8 M384.88,248.50v10.8 M445.30,438.50v-10.8 M445.30,248.50v10.8 M505.72,438.50v-10.8 M505.72,248.50v10.8 M82.80,435.06h5.2 M517.80,435.06h-5.2 M82.80,432.11h5.2 M517.80,432.11h-5.2 M82.80,429.54h5.2 M517.80,429.54h-5.2 M82.80,427.28h5.2 M517.80,427.28h-5.2 M82.80,425.26h10.8 M517.80,425.26h-10.8 M82.80,411.96h5.2 M517.80,411.96h-5.2 M82.80,404.18h5.2 M517.80,404.18h-5.2 M82.80,398.65h5.2 M517.80,398.65h-5.2 M82.80,394.37h5.2 M517.80,394.37h-5.2 M82.80,390.87h5.2 M517.80,390.87h-5.2 M82.80,387.92h5.2 M517.80,387.92h-5.2 M82.80,385.35h5.2 M517.80,385.35h-5.2 M82.80,383.09h5.2 M517.80,383.09h-5.2 M82.80,381.07h10.8 M517.80,381.07h-10.8 M82.80,367.77h5.2 M517.80,367.77h-5.2 M82.80,359.99h5.2 M517.80,359.99h-5.2 M82.80,354.46h5.2 M517.80,354.46h-5.2 M82.80,350.18h5.2 M517.80,350.18h-5.2 M82.80,346.68h5.2 M517.80,346.68h-5.2 M82.80,343.73h5.2 M517.80,343.73h-5.2 M82.80,341.16h5.2 M517.80,341.16h-5.2 M82.80,338.90h5.2 M517.80,338.90h-5.2 M82.80,336.88h10.8 M517.80,336.88h-10.8 M82.80,323.58h5.2 M517.80,323.58h-5.2 M82.80,315.80h5.2 M517.80,315.80h-5.2 M82.80,310.27h5.2 M517.80,310.27h-5.2 M82.80,305.99h5.2 M517.80,305.99h-5.2 M82.80,302.49h5.2 M517.80,302.49h-5.2 M82.80,299.54h5.2 M517.80,299.54h-5.2 M82.80,296.97h5.2 M517.80,296.97h-5.2 M82.80,294.71h5.2 M517.80,294.71h-5.2 M82.80,292.69h10.8 M517.80,292.69h-10.8 M82.80,279.39h5.2 M517.80,279.39h-5.2 M82.80,271.61h5.2 M517.80,271.61h-5.2 M82.80,266.08h5.2 M517.80,266.08h-5.2 M82.80,261.80h5.2 M517.80,261.80h-5.2 M82.80,258.30h5.2 M517.80,258.30h-5.2 M82.80,255.35h5.2 M517.80,255.35h-5.2 M82.80,252.78h5.2 M517.80,252.78h-5.2 M82.80,250.52h5.2 M517.80,250.52h-5.2" stroke="#000" stroke-width="1.15" fill="none"/>
<text transform="translate(83.20,210.10) scale(0.9,1)" text-anchor="middle" font-size="18.3">0</text>
<text transform="translate(143.62,210.10) scale(0.9,1)" text-anchor="middle" font-size="18.3">25</text>
<text transform="translate(204.03,210.10) scale(0.9,1)" text-anchor="middle" font-size="18.3">50</text>
<text transform="translate(264.45,210.10) scale(0.9,1)" text-anchor="middle" font-size="18.3">75</text>
<text transform="translate(324.87,210.10) scale(0.9,1)" text-anchor="middle" font-size="18.3">100</text>
<text transform="translate(385.28,210.10) scale(0.9,1)" text-anchor="middle" font-size="18.3">125</text>
<text transform="translate(445.70,210.10) scale(0.9,1)" text-anchor="middle" font-size="18.3">150</text>
<text transform="translate(506.12,210.10) scale(0.9,1)" text-anchor="middle" font-size="18.3">175</text>
<text transform="translate(83.20,457.80) scale(0.9,1)" text-anchor="middle" font-size="18.3">0</text>
<text transform="translate(143.62,457.80) scale(0.9,1)" text-anchor="middle" font-size="18.3">25</text>
<text transform="translate(204.03,457.80) scale(0.9,1)" text-anchor="middle" font-size="18.3">50</text>
<text transform="translate(264.45,457.80) scale(0.9,1)" text-anchor="middle" font-size="18.3">75</text>
<text transform="translate(324.87,457.80) scale(0.9,1)" text-anchor="middle" font-size="18.3">100</text>
<text transform="translate(385.28,457.80) scale(0.9,1)" text-anchor="middle" font-size="18.3">125</text>
<text transform="translate(445.70,457.80) scale(0.9,1)" text-anchor="middle" font-size="18.3">150</text>
<text transform="translate(506.12,457.80) scale(0.9,1)" text-anchor="middle" font-size="18.3">175</text>
<text x="77.6" y="34.60" text-anchor="end" font-size="17">10<tspan font-size="11.4" dy="-10.8">-16</tspan></text>
<text x="77.6" y="74.10" text-anchor="end" font-size="17">10<tspan font-size="11.4" dy="-10.8">-17</tspan></text>
<text x="77.6" y="113.60" text-anchor="end" font-size="17">10<tspan font-size="11.4" dy="-10.8">-18</tspan></text>
<text x="77.6" y="153.10" text-anchor="end" font-size="17">10<tspan font-size="11.4" dy="-10.8">-19</tspan></text>
<text x="77.6" y="192.60" text-anchor="end" font-size="17">10<tspan font-size="11.4" dy="-10.8">-20</tspan></text>
<text x="77.6" y="258.50" text-anchor="end" font-size="17">10<tspan font-size="11.4" dy="-10.8">-17</tspan></text>
<text x="77.6" y="302.69" text-anchor="end" font-size="17">10<tspan font-size="11.4" dy="-10.8">-18</tspan></text>
<text x="77.6" y="346.88" text-anchor="end" font-size="17">10<tspan font-size="11.4" dy="-10.8">-19</tspan></text>
<text x="77.6" y="391.07" text-anchor="end" font-size="17">10<tspan font-size="11.4" dy="-10.8">-20</tspan></text>
<text x="77.6" y="435.26" text-anchor="end" font-size="17">10<tspan font-size="11.4" dy="-10.8">-21</tspan></text>
<text x="302.8" y="230.1" text-anchor="middle" font-size="20.1">Scattering Angle (deg)</text>
<text x="302.8" y="477.6" text-anchor="middle" font-size="20.1">Scattering Angle (deg)</text>
<text transform="translate(22.8,365.5) rotate(-90)" font-size="20">Differential cross section (cm</text>
<text transform="translate(10.1,111.8) rotate(-90)" font-size="12.7">2</text>
<text transform="translate(22.8,103.7) rotate(-90) scale(0.9,1)" font-size="20">/Sr)</text>
<text x="101.5" y="32" font-size="17.3">v´= 3, j´= 0</text>
<text x="103.5" y="274.8" font-size="17.3">v´= 3, j´= 0</text>
<text x="489.5" y="20.6" text-anchor="middle" font-size="17.3">(a)</text>
<text x="491.5" y="268" text-anchor="middle" font-size="17.3">(b)</text>
<text x="458" y="115" text-anchor="middle" font-size="17">J = 0-4</text>
<text x="456.5" y="139.8" text-anchor="middle" font-size="17">At 1.16 K</text>
<text x="459" y="389.5" text-anchor="middle" font-size="17">J = 0-4</text>
<text x="460.2" y="411.5" text-anchor="middle" font-size="17">At 8.7 K</text>
</g></svg>
</body></html>
